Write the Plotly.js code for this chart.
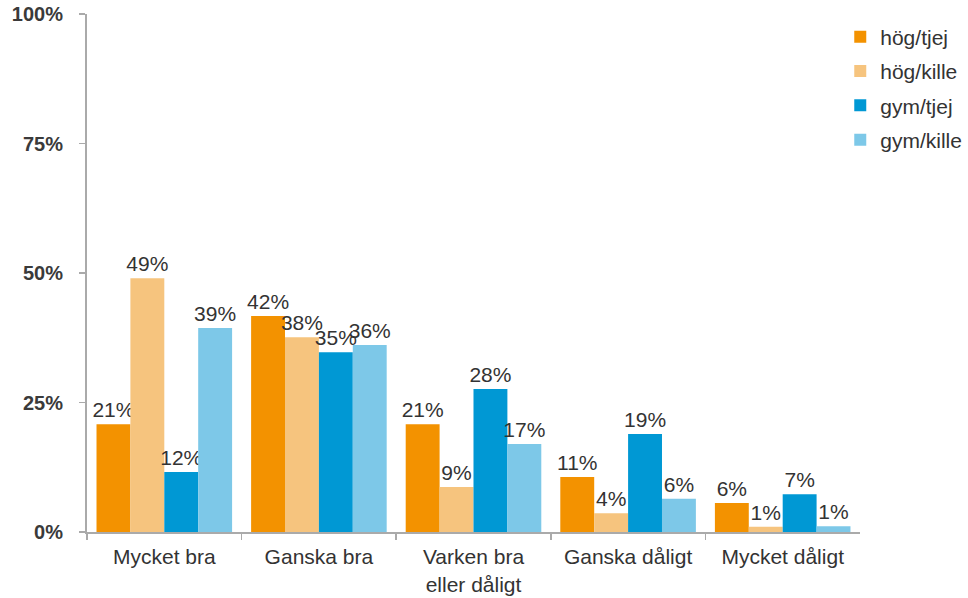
<!DOCTYPE html>
<html>
<head>
<meta charset="utf-8">
<script src="https://cdn.plot.ly/plotly-3.0.1.min.js"></script>
<style>html,body{margin:0;padding:0;background:#fff;}#chart{width:968px;height:598px;}</style>
</head>
<body>
<div id="chart"></div>
<script>
const categories = ["Mycket bra", "Ganska bra", "Varken bra<br>eller dåligt", "Ganska dåligt", "Mycket dåligt"];
const seriesNames = ["hög/tjej", "hög/kille", "gym/tjej", "gym/kille"];
const hogTjej  = [20.8, 41.7, 20.8, 10.6, 5.6];
const hogKille = [49.0, 37.6, 8.7, 3.6, 1.0];
const gymTjej  = [11.6, 34.7, 27.6, 18.9, 7.3];
const gymKille = [39.4, 36.1, 17.0, 6.4, 1.1];
const yTicks = [0, 25, 50, 75, 100];

const seriesValues = [hogTjej, hogKille, gymTjej, gymKille];
const colors = ["#F39200", "#F6C47E", "#0098D4", "#7DC8E8"];
const FONT = "Liberation Sans, Arial, sans-serif";

const traces = seriesValues.map((vals, i) => ({
  type: "bar",
  name: seriesNames[i],
  x: categories,
  y: vals,
  text: vals.map(v => Math.round(v) + "%"),
  textposition: "outside",
  constraintext: "none",
  cliponaxis: false,
  textfont: {family: FONT, size: 21, color: "#333"},
  marker: {color: colors[i]},
  legendgroup: "g" + i,
  hoverinfo: "none"
}));

const layout = {
  width: 968, height: 598,
  margin: {l: 87, r: 0, t: 14, b: 66},
  paper_bgcolor: "#fff", plot_bgcolor: "#fff",
  font: {family: FONT, size: 21, color: "#333"},
  barmode: "group",
  bargap: 0.123,
  bargroupgap: 0,
  showlegend: true,
  legend: {
    x: 0.855, xanchor: "left", y: 0.995, yanchor: "top",
    font: {family: FONT, size: 21, color: "#333"},
    tracegroupgap: 4,
    traceorder: "grouped",
    itemwidth: 30,
    bgcolor: "rgba(0,0,0,0)"
  },
  xaxis: {
    type: "category",
    domain: [0, 0.8774],
    showline: true, linecolor: "#aaa", linewidth: 2,
    ticks: "outside", tickson: "boundaries", ticklen: 6, tickcolor: "#aaa", tickwidth: 1.5,
    tickfont: {family: FONT, size: 21, color: "#333"},
    ticklabelstandoff: 5,
    showgrid: false, zeroline: false, fixedrange: true
  },
  yaxis: {
    range: [0, 100],
    tickvals: yTicks,
    ticktext: yTicks.map(v => v + "%"),
    showline: true, linecolor: "#aaa", linewidth: 2,
    ticks: "outside", ticklen: 6, tickcolor: "#aaa", tickwidth: 1.5,
    tickfont: {family: FONT, size: 20, color: "#3a3a3a", weight: "bold"},
    ticklabelstandoff: 12,
    showgrid: false, zeroline: false, fixedrange: true
  }
};

Plotly.newPlot("chart", traces, layout, {displayModeBar: false, staticPlot: true});
</script>
</body>
</html>
